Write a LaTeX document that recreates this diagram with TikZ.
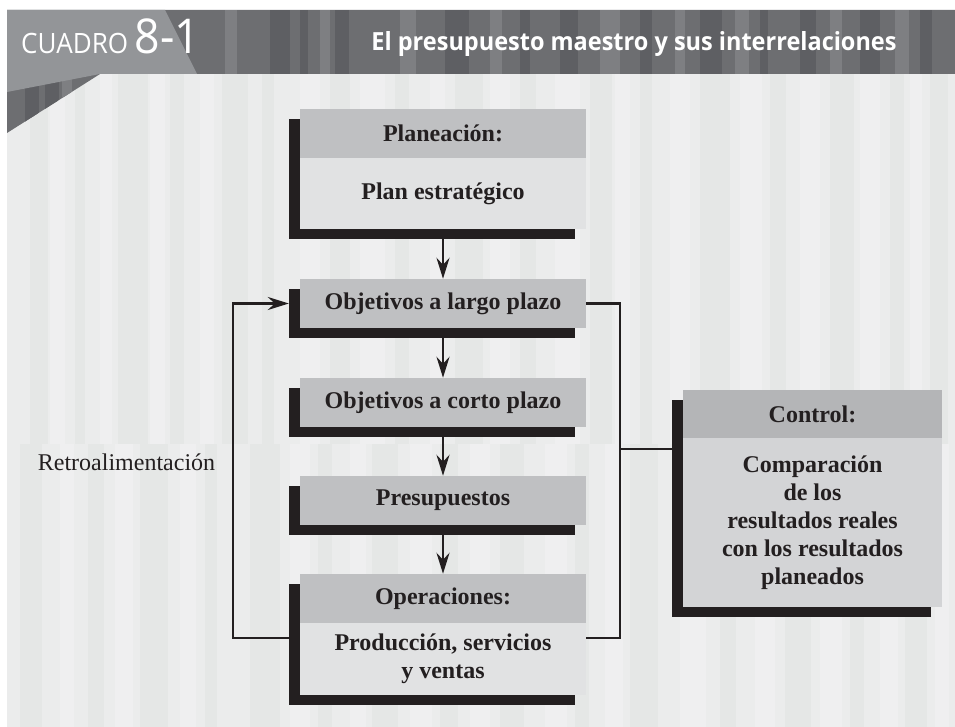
\documentclass[tikz,border=0pt]{standalone}
\usepackage{fontspec}
\setmainfont{Liberation Serif}
\newfontfamily\headfont{Open Sans}
\usetikzlibrary{arrows.meta,backgrounds}
\definecolor{ink}{HTML}{231F20}
\definecolor{panel}{HTML}{EBECEC}
\definecolor{paneldark}{HTML}{E5E7E6}
\definecolor{panellight}{HTML}{EFEFF0}
\definecolor{banddark}{HTML}{6D6E71}
\definecolor{bandshade}{HTML}{5E5F63}
\definecolor{bandlight}{HTML}{7E7F82}
\definecolor{tabgray}{HTML}{939598}
\definecolor{boxgray}{HTML}{BFC0C2}
\definecolor{bodygray}{HTML}{E1E2E3}
\definecolor{ctrlgray}{HTML}{B4B5B7}
\definecolor{ctrlbodygray}{HTML}{D3D4D6}

\begin{document}
\begin{tikzpicture}[x=1pt,y=-1pt,
  boxhead/.style={fill=boxgray, text=ink, minimum width=286pt, minimum height=49pt,
    inner sep=0pt, align=center, font=\fontsize{24}{28}\selectfont\bfseries},
  boxbody/.style={boxhead, fill=bodygray},
  ctrlhead/.style={boxhead, fill=ctrlgray, minimum width=259pt, minimum height=48pt},
  ctrlbody/.style={ctrlhead, fill=ctrlbodygray, minimum height=169pt},
  flow/.style={ink, line width=2.5pt, -{Stealth[length=21pt,width=13pt,inset=7pt]}},
  wire/.style={ink, line width=2.5pt},
  hdtext/.style={text=white, inner sep=0pt, font=\headfont}]
\useasboundingbox (0,0) rectangle (955,727);

\begin{scope}[on background layer]
\fill[white] (0,0) rectangle (955,727);
\fill[panel] (7,74) rectangle (955,727);
\foreach \xa/\w in {30/18,75/10,118/30,170/14,222/26,262/12,330/20,395/14,455/28,
  520/16,590/22,640/12,700/30,770/16,830/24,890/14,930/18}
  \fill[paneldark] (\xa,74) rectangle ++(\w,370);
\foreach \xa/\w in {50/15,100/12,150/15,200/14,300/20,360/25,430/15,490/20,555/25,
  615/15,670/20,740/22,800/20,860/20,910/12}
  \fill[panellight] (\xa,74) rectangle ++(\w,370);
\foreach \xa/\w in {20/22,88/16,140/28,205/12,250/30,318/14,372/26,440/18,500/24,
  575/14,630/28,720/16,785/26,850/14,905/22}
  \fill[paneldark] (\xa,444) rectangle ++(\w,283);
\foreach \xa/\w in {60/14,115/18,180/16,290/20,350/16,410/22,470/20,545/22,605/18,
  680/26,755/20,820/22,880/18,935/14}
  \fill[panellight] (\xa,444) rectangle ++(\w,283);
% header band
\fill[banddark] (7,10) -- (955,10) -- (955,74) -- (100,74) -- (7,133) -- cycle;
\begin{scope}
\clip (7,10) -- (955,10) -- (955,74) -- (100,74) -- (7,133) -- cycle;
\foreach \xa/\w in {25/14,45/14,270/20,300/8,335/14,445/24,520/10,560/18,640/12,
  700/22,760/8,800/16,860/20,920/12}
  \fill[bandshade] (\xa,10) rectangle ++(\w,123);
\foreach \xa/\w in {62/10,225/12,320/10,400/16,490/12,600/20,675/10,735/14,830/12,
  895/14}
  \fill[bandlight] (\xa,10) rectangle ++(\w,123);
\end{scope}
\fill[tabgray] (7,10) -- (165,10) -- (197,74) -- (100,74) -- (7,92) -- cycle;
\end{scope}

\node[hdtext, anchor=base west] (cuadro) at (21,54)
  {\scalebox{0.93}[1]{\fontsize{28}{28}\selectfont CUADRO \fontsize{48}{48}\selectfont 8-1}};
\node[hdtext, anchor=base] (title) at (634,51)
  {\scalebox{0.94}[1]{\fontsize{25}{28}\selectfont\bfseries El presupuesto maestro y sus interrelaciones}};

\node[boxhead] (planhead) at (443,133.5) {Planeación:};
\node[boxbody, minimum height=71pt] (planbody) at (443,193.5) {Plan estratégico};
\node[boxhead] (largo) at (443,303.5) {Objetivos a largo plazo};
\node[boxhead] (corto) at (443,402.5) {Objetivos a corto plazo};
\node[boxhead] (pres) at (443,500.5) {Presupuestos};
\node[boxhead] (operhead) at (443,598.5) {Operaciones:};
\node[boxbody, minimum height=72pt] (operbody) at (443,659) {Producción, servicios\\y ventas};
\node[ctrlhead] (ctrltop) at (812.5,414) {Control:};
\node[ctrlbody] (ctrltext) at (812.5,522.5)
  {Comparación\\de los\\resultados reales\\con los resultados\\planeados};
\node[text=ink, inner sep=0pt, font=\fontsize{24}{28}\selectfont] (retro) at (126.5,462)
  {Retroalimentación};

\begin{scope}[on background layer]
\foreach \a/\b in {planhead/planbody,largo/largo,corto/corto,pres/pres,
  operhead/operbody,ctrltop/ctrltext}
  \fill[ink] ([shift={(-11,10)}]\a.north west) rectangle ([shift={(-11,10)}]\b.south east);
\end{scope}

\draw[flow] ([yshift=-10pt]planbody.south) -- (largo.north);
\draw[flow] ([yshift=-10pt]largo.south) -- (corto.north);
\draw[flow] ([yshift=-10pt]corto.south) -- (pres.north);
\draw[flow] ([yshift=-10pt]pres.south) -- (operhead.north);

\coordinate (fbout) at ([shift={(-11,15)}]operbody.north west);
\coordinate (opout) at ([yshift=-15pt]operbody.north east);
\coordinate (ctrlin) at ([shift={(-11,11)}]ctrltext.north west);
\draw[flow] (fbout) -- ++(-56,0) |- ([xshift=-11pt]largo.west);
\draw[wire] (largo.east) -- ++(34,0) coordinate (split) |- (opout);
\draw[wire] (split |- ctrlin) -- (ctrlin);
\end{tikzpicture}
\end{document}
